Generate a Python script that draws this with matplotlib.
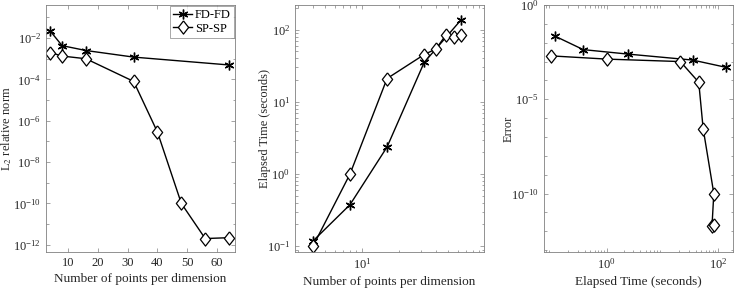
import matplotlib
matplotlib.use("Agg")
import matplotlib.pyplot as plt
import matplotlib.ticker as mticker
import numpy as np

plt.rcParams['font.family'] = ['Liberation Serif', 'DejaVu Serif']
plt.rcParams['mathtext.fontset'] = 'stix'

# Data
n_fd = [4, 8, 16, 32, 64]
err_fd = [0.022, 0.0043, 0.0025, 0.0012, 5.0e-4]
time_fd = [0.118, 0.376, 2.37, 35.0, 137.0]

n_sp = [4, 8, 16, 32, 40, 48, 56, 64]
err_sp = [0.002, 0.00135, 0.001, 8.0e-5, 2.8e-7, 1.0e-10, 2.0e-12, 2.2e-12]
time_sp = [0.1, 1.0, 21.0, 45.0, 54.0, 84.0, 78.0, 85.0]

labels = ['FD-FD', 'SP-SP']

fig = plt.figure(figsize=(7.35, 2.88), dpi=100)
W, H = 735, 288

def ax_at(l, r, t, b):
    return fig.add_axes([l / W, 1 - b / H, (r - l) / W, (b - t) / H])

ax1 = ax_at(46, 235, 5, 252)
ax2 = ax_at(295, 484, 5, 252)
ax3 = ax_at(544, 733, 5, 252)

axcol = '#262626'
fs = 9
xfs = 9.5
yfs = 9

diamond = [(0, 1), (0.78, 0), (0, -1), (-0.78, 0), (0, 1)]
fd_kw = dict(color='black', marker=(6, 2, 0), markersize=7, lw=1.0, markeredgewidth=1.0)
sp_kw = dict(color='black', marker=diamond, markersize=9.5, lw=1.0, markerfacecolor='white',
             markeredgewidth=0.9)

def style(ax):
    for s in ax.spines.values():
        s.set_color('#808080')
        s.set_linewidth(0.6)
    ax.tick_params(which='both', direction='in', top=True, right=True, colors='#808080',
                   labelcolor=axcol, labelsize=fs, width=0.5)
    ax.tick_params(which='major', length=3)
    ax.tick_params(which='minor', length=1.8)

# Panel 1
ax1.semilogy(n_fd, err_fd, label=labels[0], **fd_kw)
ax1.semilogy(n_sp, err_sp, label=labels[1], **sp_kw)
ax1.set_xlim(2.6, 66)
ax1.set_ylim(10**-12.35, 10**-0.4)
ax1.set_xticks([10, 20, 30, 40, 50, 60])
ax1.set_yticks([10.0**k for k in range(-12, -1, 2)])
ax1.yaxis.set_minor_locator(mticker.FixedLocator([10.0**k for k in range(-13, 0, 2)]))
ax1.yaxis.set_minor_formatter(mticker.NullFormatter())
ax1.xaxis.set_minor_locator(mticker.NullLocator())
ax1.set_xlabel('Number of points per dimension', fontsize=xfs, color=axcol, labelpad=3)
ax1.set_ylabel('L$_2$ relative norm', fontsize=yfs, color=axcol)
ax1.yaxis.set_label_coords(-0.17, 0.5)
style(ax1)
leg = ax1.legend(loc='upper right', fontsize=9, frameon=True, fancybox=False,
                 handlelength=1.5, handletextpad=0.2, borderpad=0.25, labelspacing=0.1,
                 borderaxespad=0.1)
leg.get_frame().set_edgecolor('#808080')
leg.get_frame().set_linewidth(0.6)

# Panel 2
ax2.loglog(n_fd, time_fd, **fd_kw)
ax2.loglog(n_sp, time_sp, **sp_kw)
ax2.set_xlim(2.86, 98)
ax2.set_ylim(10**-1.08, 10**2.34)
ax2.set_xticks([10])
ax2.set_yticks([0.1, 1, 10, 100])
ax2.xaxis.set_minor_locator(mticker.LogLocator(base=10, subs=np.arange(2, 10), numticks=20))
ax2.yaxis.set_minor_locator(mticker.LogLocator(base=10, subs=np.arange(2, 10), numticks=20))
ax2.xaxis.set_minor_formatter(mticker.NullFormatter())
ax2.yaxis.set_minor_formatter(mticker.NullFormatter())
ax2.set_xlabel('Number of points per dimension', fontsize=xfs, color=axcol, labelpad=3)
ax2.set_ylabel('Elapsed Time (seconds)', fontsize=yfs, color=axcol)
ax2.yaxis.set_label_coords(-0.127, 0.5)
style(ax2)

# Panel 3
ax3.loglog(time_fd, err_fd, **fd_kw)
ax3.loglog(time_sp, err_sp, **sp_kw)
ax3.set_xlim(0.074, 186)
ax3.set_ylim(10**-13.1, 1)
ax3.set_xticks([1, 100])
ax3.set_yticks([1e-10, 1e-5, 1])
ax3.yaxis.set_minor_locator(mticker.FixedLocator([10.0**k for k in range(-13, 0)]))
ax3.xaxis.set_minor_locator(mticker.LogLocator(base=10, subs=np.arange(2, 10), numticks=20))
ax3.xaxis.set_minor_formatter(mticker.NullFormatter())
ax3.yaxis.set_minor_formatter(mticker.NullFormatter())
ax3.set_xlabel('Elapsed Time (seconds)', fontsize=xfs, color=axcol, labelpad=3)
ax3.set_ylabel('Error', fontsize=yfs, color=axcol)
ax3.yaxis.set_label_coords(-0.153, 0.5)
style(ax3)

fig.savefig('out.png', dpi=100)
